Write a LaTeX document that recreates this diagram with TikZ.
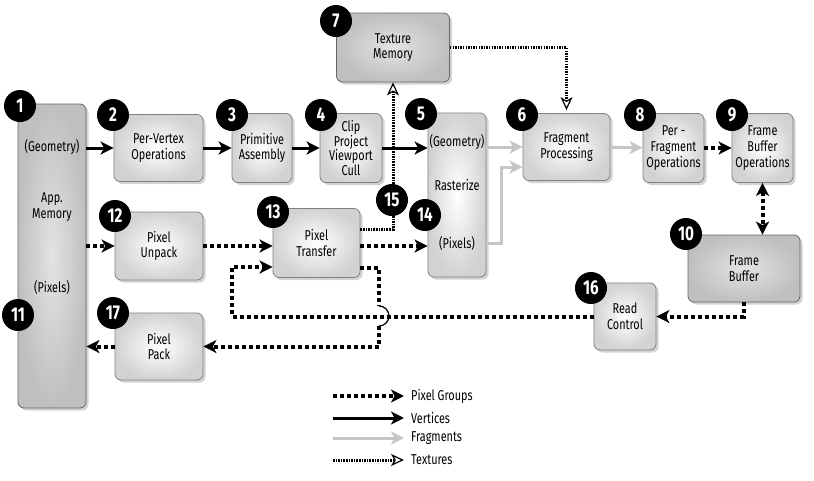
\documentclass[tikz,border=0pt]{standalone}
\usepackage{fontspec}
\setmainfont{Fira Sans}[FakeStretch=0.76]
\usepackage{tikz}
\usetikzlibrary{arrows.meta,positioning,calc,shadows}

\begin{document}
\begin{tikzpicture}[
    x=1pt, y=-1pt,
    stage/.style={rectangle, draw=gray, line width=0.8pt, rounded corners=6pt, inner color=white, outer color=gray!35, drop shadow={opacity=0.35, shadow xshift=2.5pt, shadow yshift=-2.5pt}, align=center, inner sep=0pt, font=\fontsize{14.3}{15.7}\selectfont},
    memory/.style={stage, inner color=gray!22, outer color=gray!50, draw=gray!80!black},
    badge/.style={circle, fill=black, text=white, minimum size=32pt, inner sep=0pt, font=\fontsize{20}{20}\selectfont\bfseries},
    note/.style={align=center, inner sep=1pt, font=\fontsize{14.3}{15.7}\selectfont},
    vertex/.style={-{Stealth[length=13pt, width=13pt, inset=3.5pt]}, line width=3pt, black},
    fragment/.style={vertex, gray!45},
    pixel/.style={-{Stealth[length=13pt, width=13pt, inset=3.5pt]}, line width=4pt, dash pattern=on 4pt off 3pt},
    texture/.style={-{Stealth[open, fill=white, length=13pt, width=12pt, inset=3.5pt, line width=1.2pt]}, line width=3pt, dash pattern=on 1.5pt off 1.1pt}
]
\useasboundingbox (0,0) rectangle (814,480);

% Memories
\node[memory, minimum width=68pt, minimum height=304pt] (app) at (52,256) {};
\node[note] (appgeo) at (52,147) {(Geometry)};
\node[note] (appname) at (52,207) {App.\\Memory};
\node[note] (apppix) at (52,287) {(Pixels)};
\node[memory, minimum width=113pt, minimum height=69pt] (texmem) at (393,47.5) {Texture\\Memory};
\node[memory, minimum width=112pt, minimum height=67pt] (fbuf) at (744,268.5) {Frame\\Buffer};

% Top row
\node[stage, minimum width=89pt, minimum height=67pt] (pervertex) at (158.5,148) {Per-Vertex\\Operations};
\node[stage, minimum width=60pt, minimum height=69pt] (prim) at (262,148) {Primitive\\Assembly};
\node[stage, minimum width=62pt, minimum height=69pt, font=\fontsize{14.3}{14.6}\selectfont] (clip) at (351,148) {Clip\\Project\\Viewport\\Cull};
\node[stage, minimum width=58pt, minimum height=164pt] (raster) at (457,195) {};
\node[note] (rgeo) at (457,142) {(Geometry)};
\node[note] (rname) at (457,185) {Rasterize};
\node[note] (rpix) at (457,243) {(Pixels)};
\node[stage, minimum width=87pt, minimum height=67pt] (frag) at (566.5,147) {Fragment\\Processing};
\node[stage, minimum width=61pt, minimum height=69pt] (perfrag) at (673.5,148) {Per -\\Fragment\\Operations};
\node[stage, minimum width=61pt, minimum height=69pt] (fbops) at (762.5,148) {Frame\\Buffer\\Operations};

% Pixel rows
\node[stage, minimum width=88pt, minimum height=68pt] (unpack) at (159,246) {Pixel\\Unpack};
\node[stage, minimum width=87pt, minimum height=69pt] (transfer) at (316.5,243) {Pixel\\Transfer};
\node[stage, minimum width=62pt, minimum height=67pt] (readctl) at (625,316.5) {Read\\Control};
\node[stage, minimum width=88pt, minimum height=67pt] (pack) at (159,346.5) {Pixel\\Pack};

% Textures
\draw[texture] ($(transfer.north east)+(0,21)$) -| (texmem.south);
\draw[texture, shorten >=3pt] (texmem.east) -| (frag.north);

% Vertices
\draw[vertex] (app.east |- pervertex.west) -- (pervertex.west);
\draw[vertex] (pervertex) -- (prim);
\draw[vertex] (prim) -- (clip);
\draw[vertex] (clip.east) -- (raster.west |- clip.east);

% Fragments
\coordinate (fragjoin) at (501,167);
\draw[fragment] (raster.east |- frag.west) -- (frag.west);
\draw[fragment] (raster.east |- rpix) -| (fragjoin) -- (frag.west |- fragjoin);
\draw[fragment] (frag) -- (perfrag);

% Pixel groups
\draw[pixel] (perfrag) -- (fbops);
\draw[pixel, {Stealth[length=13pt, width=13pt, inset=3.5pt]}-{Stealth[length=13pt, width=13pt, inset=3.5pt]}] (fbops.south) -- (fbops.south |- fbuf.north);
\draw[pixel] (app.east |- unpack.west) -- (unpack.west);
\draw[pixel] (unpack.east) -- (transfer.west |- unpack.east);
\draw[pixel] (transfer.east |- unpack.east) -- (raster.west |- unpack.east);
\draw[pixel] (fbuf.south) |- (readctl.east);
\coordinate (loopcorner) at (232,267);
\draw[pixel] (readctl.west) -| (loopcorner) -- (transfer.west |- loopcorner);
\coordinate (hop) at (379,316);
\draw[pixel, -] ($(transfer.south east)+(0,-10)$) -| ($(hop)+(0,-10)$);
\draw[line width=1.2pt] ($(hop)+(0,-10)$) arc[start angle=-90, end angle=90, radius=10];
\draw[pixel] ($(hop)+(0,10)$) |- (pack.east);
\draw[pixel] (pack.west) -- (app.east |- pack.west);

% Badges
\node[badge] (b1) at (20,106) {1};
\node[badge] (b2) at (113,115) {2};
\node[badge] (b3) at (232,115) {3};
\node[badge] (b4) at (321,115) {4};
\node[badge] (b5) at (421,114) {5};
\node[badge] (b6) at (522,115) {6};
\node[badge] (b7) at (336,21) {7};
\node[badge] (b8) at (640,115) {8};
\node[badge] (b9) at (732,115) {9};
\node[badge] (b10) at (686,234) {10};
\node[badge] (b11) at (18,315) {11};
\node[badge] (b12) at (115,216) {12};
\node[badge] (b13) at (273,212) {13};
\node[badge] (b14) at (425,215) {14};
\node[badge] (b15) at (392,200) {15};
\node[badge] (b16) at (591,288) {16};
\node[badge] (b17) at (113,313) {17};

% Legend
\coordinate (lgpix) at (333,396);
\coordinate (lgvert) at (333,418);
\coordinate (lgfrag) at (333,438);
\coordinate (lgtex) at (333,460);
\node[note, anchor=west] (lgpixtxt) at (410,396) {Pixel Groups};
\node[note, anchor=west] (lgverttxt) at (410,418) {Vertices};
\node[note, anchor=west] (lgfragtxt) at (410,438) {Fragments};
\node[note, anchor=west] (lgtextxt) at (410,460) {Textures};
\draw[pixel, shorten >=6pt] (lgpix) -- (lgpixtxt.west);
\draw[vertex, shorten >=6pt] (lgvert) -- (lgverttxt.west);
\draw[fragment, shorten >=6pt] (lgfrag) -- (lgfragtxt.west);
\draw[texture, shorten >=6pt] (lgtex) -- (lgtextxt.west);

\end{tikzpicture}
\end{document}
